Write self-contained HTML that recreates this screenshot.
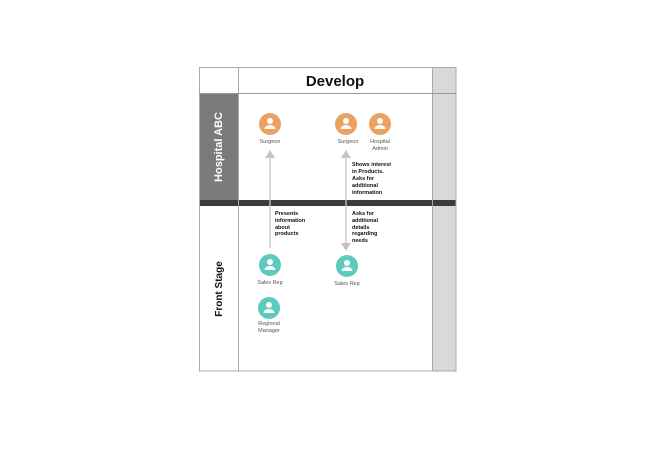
<!DOCTYPE html>
<html><head><style>body{margin:0;background:#fff}svg{display:block}</style></head><body>
<svg width="655" height="466" viewBox="0 0 655 466" xmlns="http://www.w3.org/2000/svg" font-family="Liberation Sans, sans-serif">
<rect x="432" y="67" width="24" height="304" fill="#d9d9d9"/>
<rect x="199" y="93" width="39" height="107" fill="#7b7b7b"/>
<rect x="199" y="200" width="257" height="6" fill="#3b3b3b"/>
<rect x="199.5" y="67.5" width="256.5" height="303.5" fill="none" stroke="#aaa" stroke-width="1"/>
<line x1="238.5" y1="67" x2="238.5" y2="371" stroke="#aaa"/>
<line x1="432.5" y1="67" x2="432.5" y2="371" stroke="#aaa"/>
<line x1="199" y1="93.5" x2="456" y2="93.5" stroke="#999"/>
<text x="335" y="86" font-size="15" font-weight="bold" text-anchor="middle" fill="#111">Develop</text>
<text transform="translate(222,147) rotate(-90)" font-size="11" font-weight="bold" fill="#fff" text-anchor="middle">Hospital ABC</text>
<text transform="translate(222,289) rotate(-90)" font-size="10" font-weight="bold" fill="#111" text-anchor="middle">Front Stage</text>
<g stroke="#c4c4c4" stroke-width="1.3" fill="#c4c4c4">
<line x1="270" y1="157" x2="270" y2="248"/><polygon points="265,158 275,158 270,150" stroke="none"/>
<line x1="346" y1="157" x2="346" y2="244"/><polygon points="341,158 351,158 346,150" stroke="none"/><polygon points="341,243 351,243 346,251" stroke="none"/>
</g>
<defs><g id="p"><circle r="11"/><circle cy="-3" r="3" fill="#fff"/><path d="M-5.5,5 a5.5,4 0 0 1 11,0 z" fill="#fff"/></g></defs>
<g fill="#e9a262"><use href="#p" x="270" y="124"/><use href="#p" x="346" y="124"/><use href="#p" x="380" y="124"/></g>
<g fill="#5ccbbd"><use href="#p" x="270" y="265"/><use href="#p" x="347" y="266"/><use href="#p" x="269" y="308"/></g>
<g font-size="5.5" fill="#555" text-anchor="middle">
<text x="270" y="143">Surgeon</text><text x="348" y="143">Surgeon</text>
<text x="380" y="143">Hospital</text><text x="380" y="150">Admin</text>
<text x="270" y="284">Sales Rep</text><text x="347" y="285">Sales Rep</text>
<text x="269" y="325">Regional</text><text x="269" y="332">Manager</text>
</g>
<g font-size="5.5" font-weight="bold" fill="#111">
<text x="352" y="166">Shows interest</text><text x="352" y="173">in Products.</text><text x="352" y="180">Asks for</text><text x="352" y="187">additional</text><text x="352" y="194">information</text>
<text x="275" y="215">Presents</text><text x="275" y="222">information</text><text x="275" y="229">about</text><text x="275" y="235">products</text>
<text x="352" y="215">Asks for</text><text x="352" y="222">additional</text><text x="352" y="229">details</text><text x="352" y="235">regarding</text><text x="352" y="242">needs</text>
</g>
</svg>
</body></html>
